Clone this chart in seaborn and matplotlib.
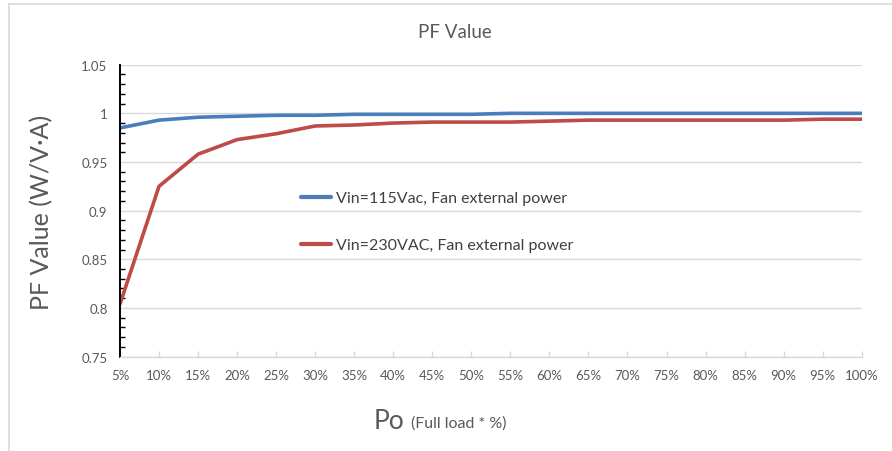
import matplotlib
matplotlib.use("Agg")
import matplotlib.pyplot as plt
import seaborn as sns
import pandas as pd
from matplotlib.ticker import MultipleLocator
from matplotlib.lines import Line2D

load_pct = [5, 10, 15, 20, 25, 30, 35, 40, 45, 50, 55, 60, 65, 70, 75, 80, 85, 90, 95, 100]
pf_115 = [0.985, 0.993, 0.996, 0.997, 0.998, 0.998, 0.999, 0.999, 0.999, 0.999,
          1.000, 1.000, 1.000, 1.000, 1.000, 1.000, 1.000, 1.000, 1.000, 1.000]
pf_230 = [0.804, 0.925, 0.958, 0.973, 0.979, 0.987, 0.988, 0.990, 0.991, 0.991,
          0.991, 0.992, 0.993, 0.993, 0.993, 0.993, 0.993, 0.993, 0.994, 0.994]
series_names = ["Vin=115Vac, Fan external power", "Vin=230VAC, Fan external power"]
tick_labels = [f"{v}%" for v in load_pct]
y_ticks = [0.75, 0.8, 0.85, 0.9, 0.95, 1.0, 1.05]
y_tick_labels = ["0.75", "0.8", "0.85", "0.9", "0.95", "1", "1.05"]

df = pd.concat([
    pd.DataFrame({"load": load_pct, "pf": pf_115, "series": series_names[0]}),
    pd.DataFrame({"load": load_pct, "pf": pf_230, "series": series_names[1]}),
])

sns.set_theme(style="white")
plt.rcParams['font.family'] = ['Lato', 'DejaVu Sans']

W, H = 892, 452
fig = plt.figure(figsize=(W / 100, H / 100), dpi=100)
ax = fig.add_axes([120 / W, 1 - 357.5 / H, (861.7 - 120) / W, (357.5 - 65.7) / H])

palette = {series_names[0]: "#4A7EBB", series_names[1]: "#BE4B48"}
sns.lineplot(data=df, x="load", y="pf", hue="series", palette=palette,
             linewidth=2.6, ax=ax, legend=False)

ax.set_xlim(5, 100)
ax.set_ylim(0.75, 1.05)
ax.set_xticks(load_pct)
ax.set_xticklabels(tick_labels)
ax.set_yticks(y_ticks)
ax.set_yticklabels(y_tick_labels)
ax.yaxis.set_minor_locator(MultipleLocator(0.01))

ax.grid(axis="y", color="#D9D9D9", linewidth=1.0)
ax.grid(axis="x", visible=False)
ax.set_axisbelow(True)

for s in ["top", "right"]:
    ax.spines[s].set_visible(False)
ax.spines["left"].set_color("black")
ax.spines["left"].set_linewidth(1.4)
ax.spines["bottom"].set_color("#D9D9D9")
ax.spines["bottom"].set_linewidth(1.0)

ax.tick_params(axis="y", which="major", direction="inout", length=6, width=1.2,
               color="black", labelsize=9.5, labelcolor="#595959", pad=6)
ax.tick_params(axis="y", which="minor", direction="in", length=3.5, width=1.0,
               color="black", left=True)
ax.tick_params(axis="x", which="major", direction="in", length=4, width=1.0,
               color="#D9D9D9", labelsize=9.5, labelcolor="#595959", pad=9, bottom=True)

ax.set_xlabel("")
ax.set_ylabel("")

fig.text(455 / W, 1 - 32 / H, "PF Value", ha="center", va="center",
         fontsize=13.5, color="#595959")
fig.text(42 / W, 1 - 212 / H, "PF Value (W/V\u00b7A)", rotation=90, ha="center",
         va="center", fontsize=18, color="#595959")
fig.text(389 / W, 1 - 422 / H, "Po", ha="center", va="center",
         fontsize=19, color="#595959")
fig.text(411 / W, 1 - 424 / H, "(Full load * %)", ha="left", va="center",
         fontsize=11.5, color="#595959")

handles = [Line2D([], [], color=palette[n], linewidth=3.0) for n in series_names]
leg = ax.legend(handles, series_names, loc="upper left",
                bbox_to_anchor=(301 / W, 1 - 192 / H), bbox_transform=fig.transFigure,
                frameon=False, fontsize=11.5, handlelength=1.9, handletextpad=0.3,
                labelspacing=2.05, borderpad=0, borderaxespad=0)
for t in leg.get_texts():
    t.set_color("#404040")

# chart area border (left and top visible in reference)
fig.add_artist(Line2D([8.5 / W, 8.5 / W], [0, 1 - 5 / H], transform=fig.transFigure,
                      color="#D9D9D9", linewidth=1.2))
fig.add_artist(Line2D([8.5 / W, 1], [1 - 5 / H, 1 - 5 / H], transform=fig.transFigure,
                      color="#D9D9D9", linewidth=1.2))

fig.savefig("out.png", dpi=100, facecolor="white")
